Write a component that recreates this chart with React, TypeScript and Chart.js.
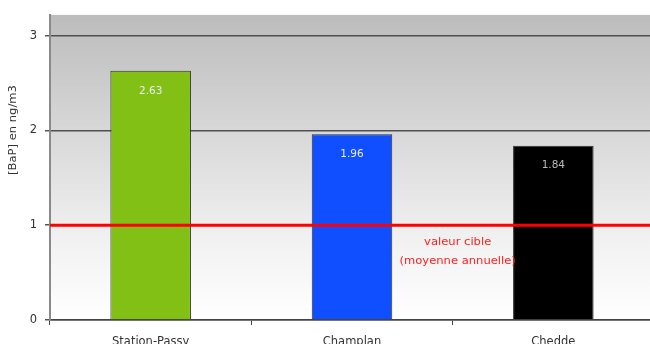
import React, { useEffect, useRef } from "react";
import { Chart, registerables } from "chart.js";

Chart.register(...registerables);

const stations = ["Station-Passy", "Champlan", "Chedde"];
const bapValues = [2.63, 1.96, 1.84];
const barColors = ["#82c015", "#0f4fff", "#000000"];
const targetValue = 1;
const targetLabel = ["valeur cible", "(moyenne annuelle)"];
const yTitle = "[BaP] en ng/m3";

const FONT = "'DejaVu Sans', sans-serif";

const decorPlugin = {
  id: "decor",
  beforeDraw(chart: any) {
    const { ctx, chartArea: a } = chart;
    const g = ctx.createLinearGradient(0, a.top, 0, a.bottom);
    g.addColorStop(0, "#bcbcbc");
    g.addColorStop(0.4, "#d9d9d9");
    g.addColorStop(0.75, "#f2f2f2");
    g.addColorStop(1, "#ffffff");
    ctx.save();
    ctx.fillStyle = g;
    ctx.fillRect(a.left, a.top, a.right - a.left, a.bottom - a.top);
    ctx.restore();
  },
  afterDatasetsDraw(chart: any) {
    const { ctx, chartArea: a, scales } = chart;
    const meta = chart.getDatasetMeta(0);
    ctx.save();
    // value labels inside the top of each bar
    ctx.font = `10.5px ${FONT}`;
    ctx.textAlign = "center";
    ctx.textBaseline = "middle";
    meta.data.forEach((bar: any, i: number) => {
      ctx.fillStyle = i === 2 ? "#bbbbbb" : "#eeeeee";
      ctx.fillText(bapValues[i].toFixed(2), bar.x, bar.y + 20);
    });
    // target value line
    const yT = scales.y.getPixelForValue(targetValue);
    ctx.strokeStyle = "#ff0000";
    ctx.lineWidth = 3;
    ctx.beginPath();
    ctx.moveTo(a.left, yT);
    ctx.lineTo(a.right, yT);
    ctx.stroke();
    ctx.fillStyle = "#ff2020";
    ctx.font = `11px ${FONT}`;
    ctx.save();
    ctx.translate(scales.x.getPixelForValue(1.5) + 5, yT);
    ctx.scale(1.05, 1);
    ctx.fillText(targetLabel[0], 0, 17);
    ctx.fillText(targetLabel[1], 0, 36);
    ctx.restore();
    // rotated axis title
    ctx.fillStyle = "#333333";
    ctx.font = `10.5px ${FONT}`;
    ctx.translate(13, 130);
    ctx.rotate(-Math.PI / 2);
    ctx.scale(1.1, 1);
    ctx.fillText(yTitle, 0, 0);
    ctx.restore();
  },
};

export default function App() {
  const ref = useRef<HTMLCanvasElement>(null);
  useEffect(() => {
    if (!ref.current) return;
    const chart = new Chart(ref.current, {
      type: "bar",
      data: {
        labels: stations,
        datasets: [
          {
            data: bapValues,
            backgroundColor: barColors,
            borderColor: "#2e2e2e",
            borderWidth: 1,
            categoryPercentage: 0.4,
            barPercentage: 1,
          },
        ],
      },
      options: {
        animation: false,
        responsive: false,
        layout: { padding: { top: 13, right: 6, left: 0, bottom: 0 } },
        plugins: { legend: { display: false }, tooltip: { enabled: false } },
        scales: {
          x: {
            grid: {
              offset: true,
              drawOnChartArea: false,
              drawTicks: true,
              tickLength: 5,
              color: "#444444",
            },
            border: { color: "#444444", width: 1.5 },
            ticks: {
              color: "#333333",
              font: { family: FONT, size: 11.5 },
              padding: 10,
            },
            afterFit(s: any) {
              s.height = 24;
            },
          },
          y: {
            min: 0,
            max: 3.22,
            ticks: {
              stepSize: 1,
              color: "#333333",
              font: { family: FONT, size: 11.5 },
              padding: 8,
            },
            afterBuildTicks(s: any) {
              s.ticks = s.ticks.filter((t: any) => Number.isInteger(t.value));
            },
            grid: {
              color: "#505050",
              lineWidth: 1.5,
              tickLength: 5,
              tickColor: "#555555",
            },
            border: { color: "#8a8a8a", width: 2 },
            afterFit(s: any) {
              s.width = 50;
            },
          },
        },
      },
      plugins: [decorPlugin],
    });
    return () => chart.destroy();
  }, []);
  return (
    <div
      style={{
        position: "absolute",
        left: 0,
        top: 0,
        width: 650,
        height: 344,
        overflow: "hidden",
        background: "#ffffff",
      }}
    >
      <canvas ref={ref} width={660} height={344} style={{ display: "block" }} />
    </div>
  );
}
